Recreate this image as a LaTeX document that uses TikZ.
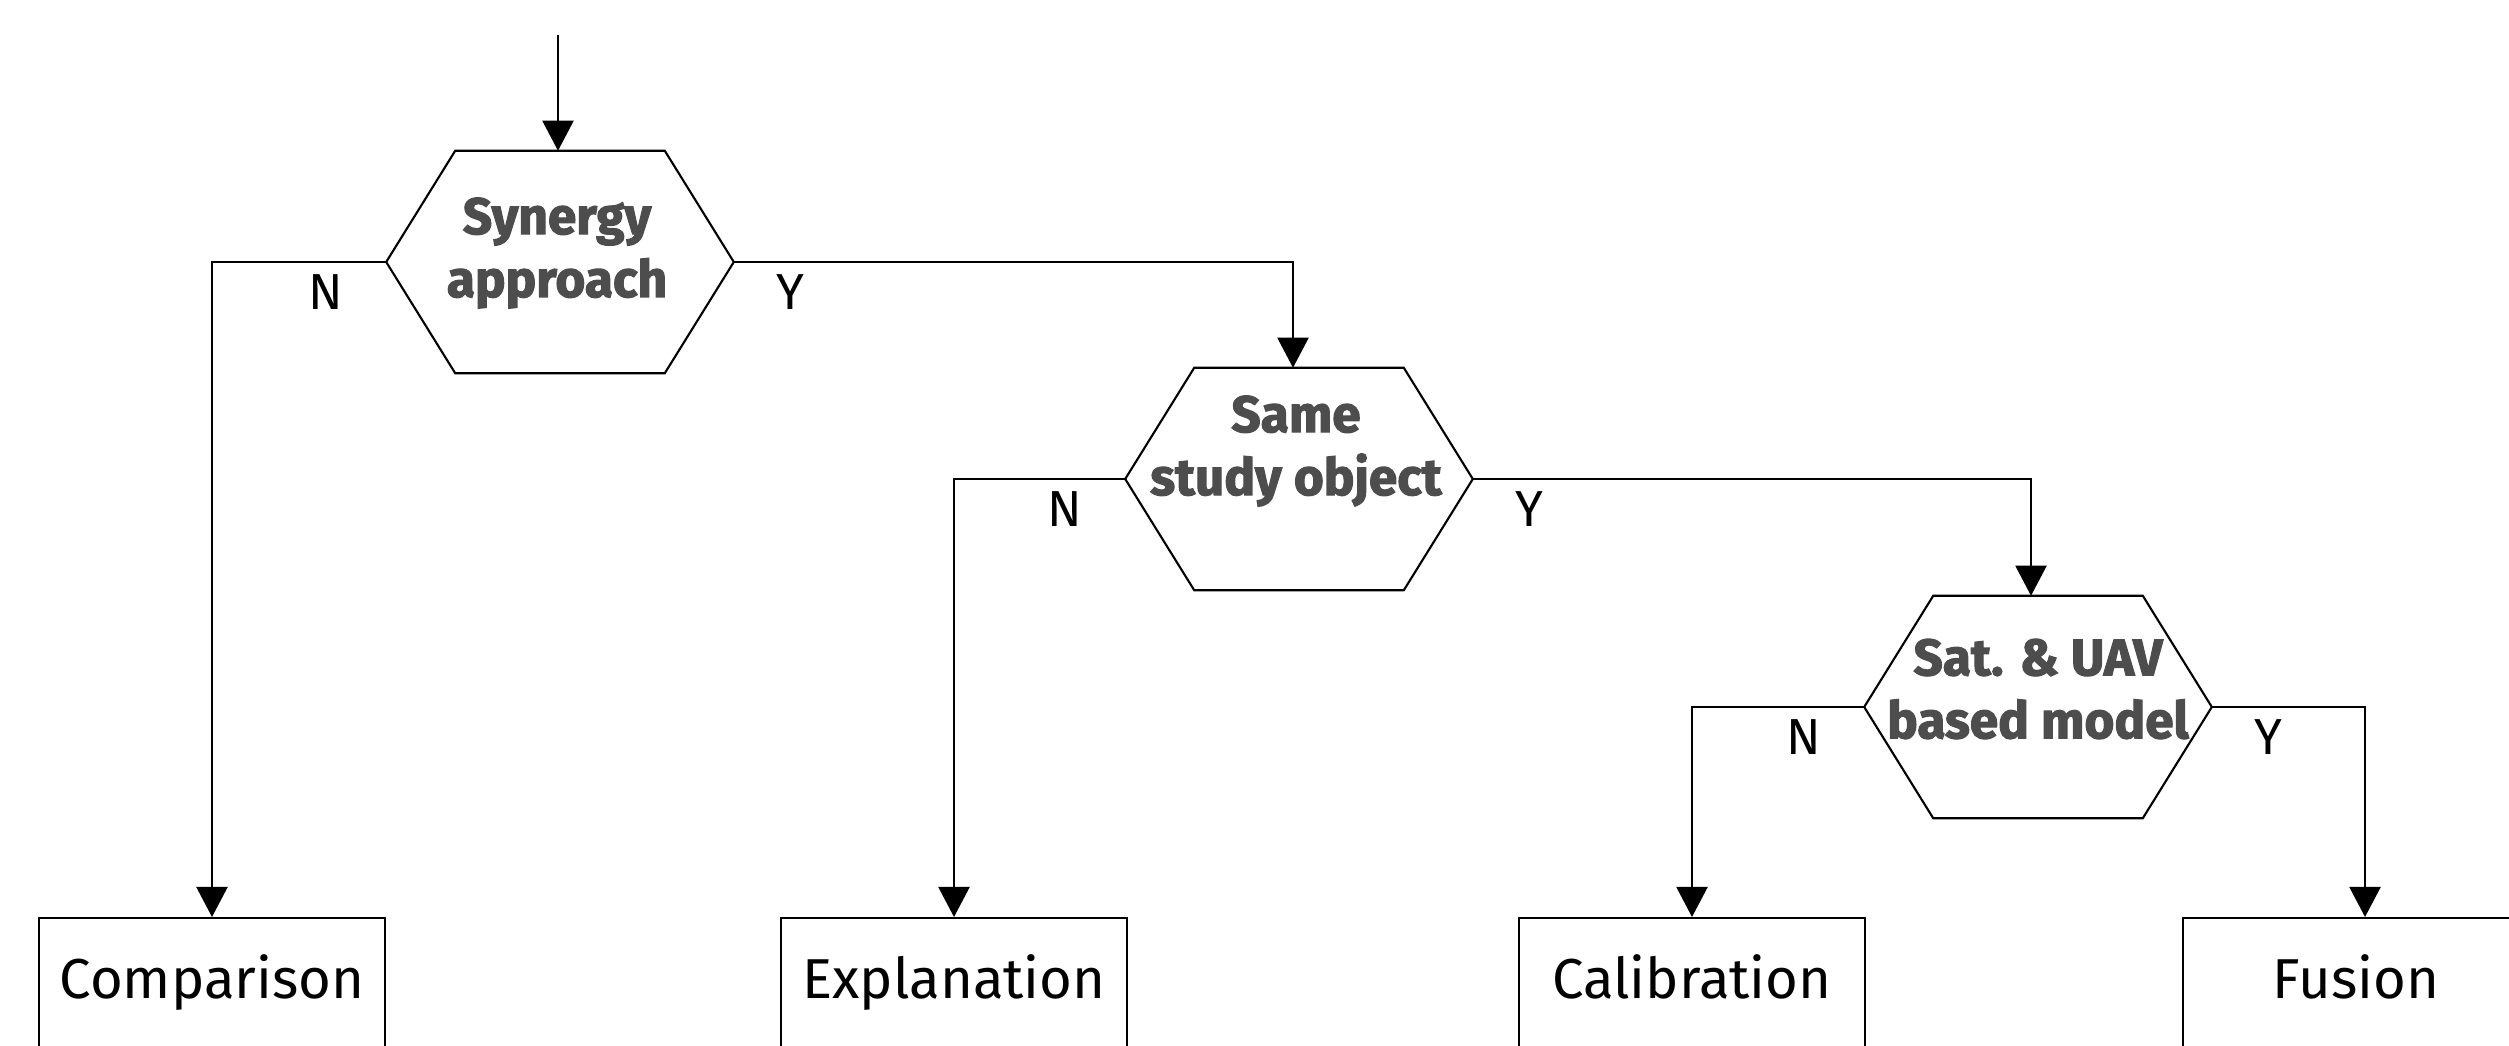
\documentclass[tikz,border=0pt]{standalone}
\usepackage{fontspec}
\setmainfont{Fira Sans}
\newfontfamily\hexfont{Fira Sans}[BoldFeatures={FakeBold=2.2}]
\newfontfamily\lightfont{Fira Sans}
\usetikzlibrary{arrows.meta}
\definecolor{hexgray}{HTML}{4D4D4D}
\tikzset{
  line/.style={line width=0.6pt, draw=black},
  arr/.style={line, -{Triangle[length=0.3cm,width=0.31cm]}},
  hexnode/.style={minimum width=3.46cm, minimum height=2.21cm, inner sep=0},
  hextext/.style={font=\hexfont\bfseries\fontsize{14.6}{17.9}\selectfont, text=hexgray, align=center, inner sep=0},
  resbox/.style={line, anchor=north, minimum width=3.46cm, inner xsep=0, inner ysep=0,
    text height=0.8cm, text depth=0.8cm, font=\lightfont\fontsize{16}{19}\selectfont},
  yn/.style={font=\lightfont\fontsize{14.4}{17}\selectfont, inner sep=0},
}
\newcommand{\hexpath}[1]{\draw[line] ([xshift=0.69cm]#1.north west) -- ([xshift=-0.69cm]#1.north east) -- (#1.east) -- ([xshift=-0.69cm]#1.south east) -- ([xshift=0.69cm]#1.south west) -- (#1.west) -- cycle;}
\begin{document}
\begin{tikzpicture}[x=0.01cm,y=-0.01cm]
\useasboundingbox (0,0) rectangle (2509,1046);
\clip (0,0) rectangle (2509,1046);
% decisions
\node[hexnode] (h1) at (560,262) {};
\hexpath{h1}
\node[hextext] (h1t) at (557,253) {Synergy\\approach};
\node[hexnode] (h2) at (1299,479) {};
\hexpath{h2}
\node[hextext] (h2t) at (1296,451) {Same\\study object};
\node[hexnode] (h3) at (2038,707) {};
\hexpath{h3}
\node[hextext] (h3t) at (2038,689) {Sat. \& UAV\\based model};
% results
\node[resbox] (cmp) at (212,917) {Comparison};
\node[resbox] (exp) at (954,917) {Explanation};
\node[resbox] (cal) at (1692,917) {Calibration};
\node[resbox] (fus) at (2356,917) {Fusion};
% connectors
\coordinate (start) at (558,35);
\draw[arr] (start) -- (start |- h1.north);
\draw[arr] (h1.west) -| (cmp.north);
\draw[arr] (h1.east) -| ([xshift=-0.06cm]h2.north);
\draw[arr] (h2.west) -| (exp.north);
\draw[arr] (h2.east) -| ([xshift=-0.07cm]h3.north);
\draw[arr] (h3.west) -| (cal.north);
\draw[arr] (h3.east) -| ([xshift=0.09cm]fus.north);
% labels
\node[yn] (n1) at ([shift={(-60,30)}]h1.west) {N};
\node[yn] (y1) at ([shift={(57,30)}]h1.east) {Y};
\node[yn] (n2) at ([shift={(-60,30)}]h2.west) {N};
\node[yn] (y2) at ([shift={(57,30)}]h2.east) {Y};
\node[yn] (n3) at ([shift={(-60,30)}]h3.west) {N};
\node[yn] (y3) at ([shift={(57,30)}]h3.east) {Y};
\end{tikzpicture}
\end{document}
